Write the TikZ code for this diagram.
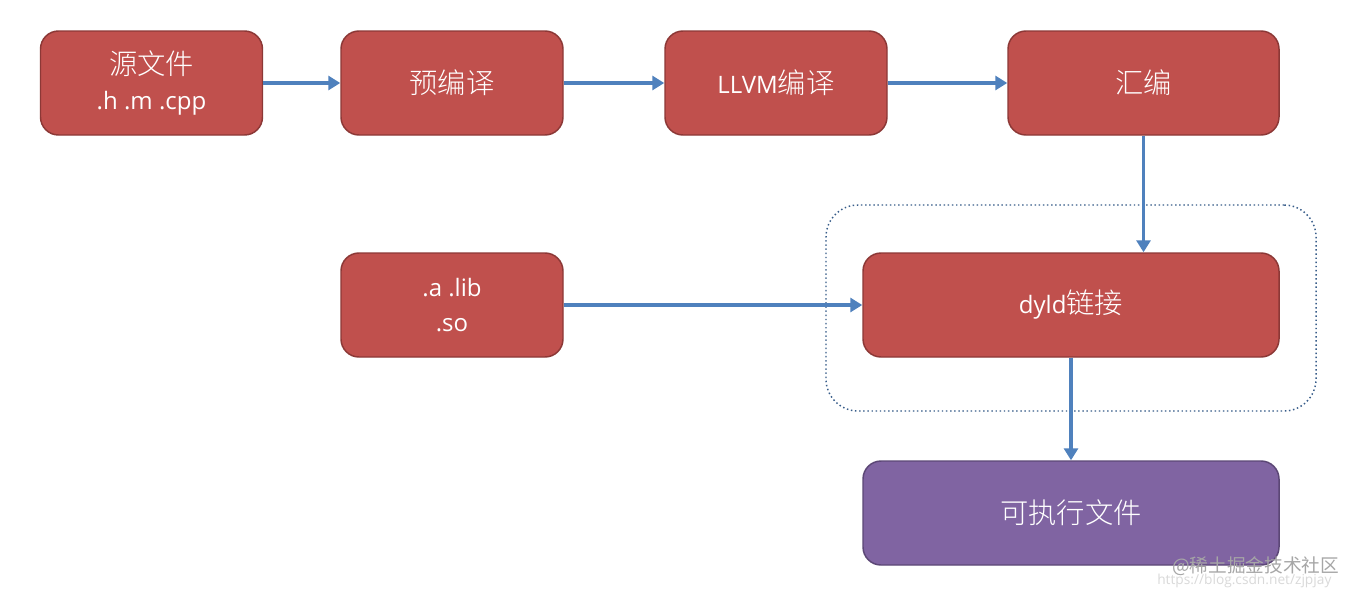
\documentclass[tikz,border=0pt]{standalone}
\usepackage{fontspec}
\setmainfont{Open Sans}
\newfontfamily\cjk{Noto Sans CJK SC}[UprightFont={* Light},Scale=1.18]
\newfontfamily\cjkwm{Noto Sans CJK SC}
\usetikzlibrary{arrows.meta}
\definecolor{boxred}{HTML}{C0504D}
\definecolor{boxredline}{HTML}{8C3836}
\definecolor{boxpurple}{HTML}{8064A2}
\definecolor{boxpurpleline}{HTML}{5C4776}
\definecolor{arrowblue}{HTML}{4F81BD}
\definecolor{framecol}{HTML}{385D8A}
\begin{document}
\begin{tikzpicture}[x=0.75pt,y=-0.75pt,
  boxbase/.style={rounded corners=13.5pt, line width=1.1pt, inner sep=0pt,
     minimum height=78pt, text=white, align=center,
     font=\fontsize{18}{26}\selectfont},
  redbox/.style={boxbase, fill=boxred, draw=boxredline},
  purplebox/.style={boxbase, fill=boxpurple, draw=boxpurpleline},
  flow/.style={draw=arrowblue, line width=2.3pt,
     -{Triangle[length=9pt,width=10.5pt]}},
  wm/.style={inner sep=0pt, anchor=west}
]
\useasboundingbox (0,0) rectangle (1352,594);
\fill[white] (0,0) rectangle (1352,594);

\node[draw=framecol, dotted, line width=1.1pt, rounded corners=24pt,
      minimum width=367.5pt, minimum height=154.5pt, inner sep=0pt]
      (frame) at (1071,308) {};

\node[redbox, minimum width=166.5pt] (src) at (151.5,83) {{\cjk 源文件}\\.h .m .cpp};
\node[redbox, minimum width=166.5pt] (pre) at (452,83) {\cjk 预编译};
\node[redbox, minimum width=166.5pt] (llvm) at (776,83) {LLVM{\cjk 编译}};
\node[redbox, minimum width=203.25pt] (asm) at (1143.5,83) {\cjk 汇编};
\node[redbox, minimum width=166.5pt] (lib) at (452,305) {.a .lib\\.so};
\node[redbox, minimum width=312pt] (dyld) at (1071,305) {dyld{\cjk 链接}};
\node[purplebox, minimum width=312pt] (exe) at (1071,513) {\cjk 可执行文件};

\draw[flow] (src) -- (pre);
\draw[flow] (pre) -- (llvm);
\draw[flow] (llvm) -- (asm);
\draw[flow] (asm.south) -- (dyld.north -| asm.south);
\draw[flow] (lib) -- (dyld);
\draw[flow] (dyld) -- (exe);

\node[wm, text=black!35, font=\cjkwm\fontsize{14}{14}\selectfont] (wm1) at (1172,566) {@稀土掘金技术社区};
\node[wm, text=black!15, font=\fontsize{10.3}{10.3}\selectfont] (wm2) at (1157,581) {https://blog.csdn.net/zjpjay};
\end{tikzpicture}
\end{document}
